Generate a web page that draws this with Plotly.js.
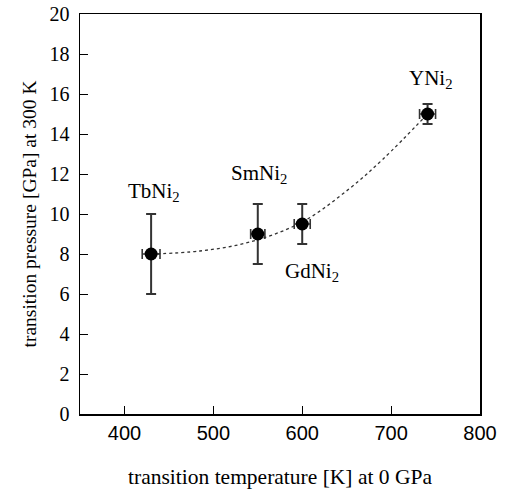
<!DOCTYPE html>
<html>
<head>
<meta charset="utf-8">
<script src="https://cdn.plot.ly/plotly-3.0.1.min.js"></script>
<style>html,body{margin:0;padding:0;background:#fff;}#chart{width:505px;height:489px;}</style>
</head>
<body>
<div id="chart"></div>
<script>
// data
const compounds = ["TbNi<sub>2</sub>", "SmNi<sub>2</sub>", "GdNi<sub>2</sub>", "YNi<sub>2</sub>"];
const temperature = [430, 550, 600, 741];      // K at 0 GPa
const tempErr = [10, 8, 9, 9];
const pressure = [8, 9, 9.5, 15];              // GPa at 300 K
const pressErrPlus = [2, 1.5, 1, 0.5];
const pressErrMinus = [2, 1.5, 1, 0.5];
// dotted guide curve
const curveT = [430, 485, 541, 600, 654, 691, 741];
const curveP = [8.0, 8.15, 8.6, 9.6, 11.3, 12.75, 15.0];
// label anchors (data coords)
const labelT = [402, 518, 578, 718];
const labelP = [11.1, 12.0, 7.1, 16.75];

const serif = "Liberation Serif, Times New Roman, serif";
const sans = "Liberation Sans, Arial, sans-serif";

const traces = [
  {
    x: curveT, y: curveP, mode: "lines", type: "scatter",
    line: {shape: "spline", smoothing: 1.0, dash: "dot", color: "#333", width: 1.3},
    hoverinfo: "skip", showlegend: false
  },
  {
    x: temperature, y: pressure, mode: "markers", type: "scatter",
    marker: {color: "#000", size: 13},
    error_y: {type: "data", symmetric: false, array: pressErrPlus, arrayminus: pressErrMinus,
              color: "#333", thickness: 2, width: 5},
    error_x: {type: "data", array: tempErr, color: "#333", thickness: 1.6, width: 5},
    showlegend: false
  }
];

const annotations = compounds.map((c, i) => ({
  x: labelT[i], y: labelP[i], xref: "x", yref: "y",
  text: c, showarrow: false, xanchor: "left", yanchor: "middle",
  font: {family: serif, size: 21, color: "#000"}
}));

const layout = {
  width: 505, height: 489,
  margin: {l: 80, r: 25, t: 14, b: 75},
  paper_bgcolor: "#fff", plot_bgcolor: "#fff",
  showlegend: false,
  xaxis: {
    range: [350, 800], dtick: 100, tick0: 400,
    showgrid: false, zeroline: false,
    showline: true, linecolor: "#000", linewidth: 1.5, mirror: true,
    ticks: "inside", ticklen: 8, tickcolor: "#000", tickwidth: 1,
    tickfont: {family: sans, size: 20, color: "#000"},
    title: {text: "transition temperature [K] at 0 GPa", font: {family: serif, size: 21.5, color: "#000"}, standoff: 33}
  },
  yaxis: {
    range: [0, 20], dtick: 2,
    showgrid: false, zeroline: false,
    showline: true, linecolor: "#000", linewidth: 1.5, mirror: true,
    ticks: "inside", ticklen: 8, tickcolor: "#000", tickwidth: 1,
    ticklabelstandoff: 5,
    tickfont: {family: serif, size: 20, color: "#000"},
    title: {text: "transition pressure [GPa] at 300 K", font: {family: serif, size: 19.5, color: "#000"}, standoff: 7}
  },
  annotations: annotations
};

Plotly.newPlot("chart", traces, layout, {displayModeBar: false, staticPlot: true});
</script>
</body>
</html>
